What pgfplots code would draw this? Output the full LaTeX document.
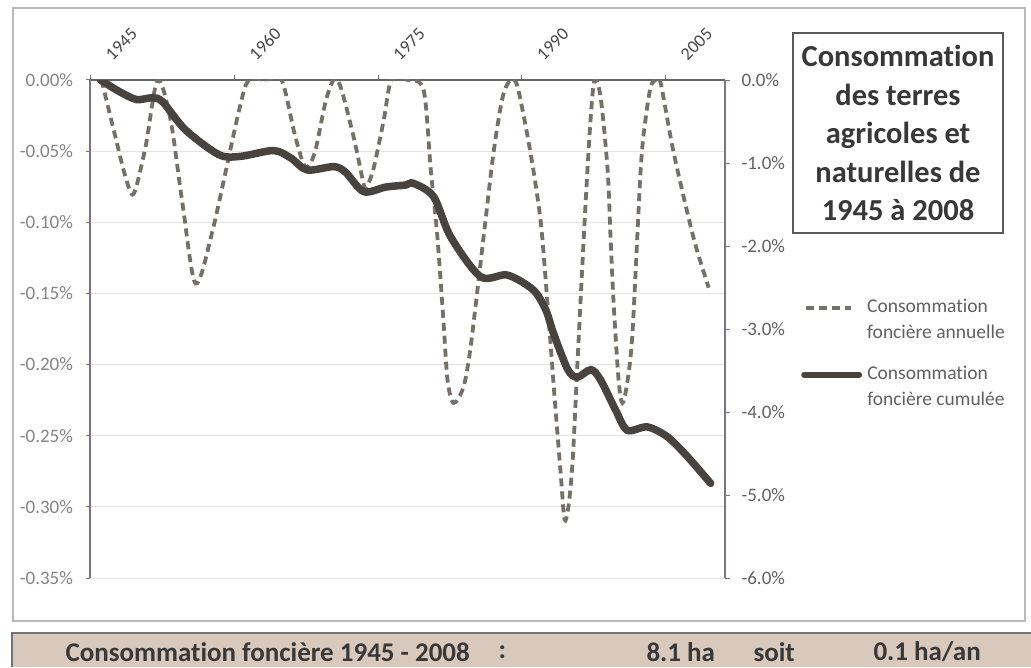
\documentclass[border=0pt]{standalone}
\usepackage{fontspec}
\setmainfont{Carlito}[Ligatures=NoCommon]
\usepackage{pgfplots}
\usepackage{pgfplotstable}
\pgfplotsset{compat=1.18}
\definecolor{dashc}{HTML}{75706A}
\definecolor{solidc}{HTML}{48433E}
\definecolor{axc}{HTML}{7C7385}
\definecolor{banner}{HTML}{D9C8BC}
\definecolor{lblc}{HTML}{858585}

% annual land consumption (% , left axis)
\pgfplotstableread{
x y
1945.65 0
1947.1 -0.040
1948.15 -0.068
1949.0 -0.080
1950.24 -0.047
1951.5 0
1952.85 -0.028
1954.1 -0.087
1955.46 -0.143
1957.23 -0.106
1959.94 -0.023
1961.0 0
1962.7 0
1964.43 0
1965.8 -0.038
1966.9 -0.061
1967.9 -0.051
1969.0 -0.016
1969.86 0
1970.6 -0.005
1971.95 -0.040
1972.9 -0.070
1973.2 -0.076
1974.0 -0.063
1975.1 -0.028
1975.9 0
1977.6 0
1979.25 -0.007
1980.0 -0.063
1980.7 -0.111
1981.34 -0.171
1981.75 -0.211
1982.38 -0.227
1983.4 -0.216
1984.15 -0.188
1985.5 -0.111
1986.55 -0.051
1987.5 -0.012
1988.33 0
1989.06 -0.005
1990.4 -0.051
1991.46 -0.099
1992.19 -0.158
1992.92 -0.223
1993.55 -0.276
1993.96 -0.309
1994.38 -0.299
1994.8 -0.268
1995.22 -0.211
1995.63 -0.155
1996.15 -0.087
1996.67 -0.028
1997.09 0
1997.72 -0.012
1998.45 -0.063
1998.76 -0.111
1999.08 -0.157
1999.6 -0.211
2000.0 -0.227
2000.54 -0.211
2001.06 -0.176
2001.9 -0.063
2002.4 -0.028
2002.94 -0.005
2003.46 0
2003.98 -0.002
2005.34 -0.051
2007.42 -0.111
2009.0 -0.146
}\annual

% cumulative land consumption (% , right axis)
\pgfplotstableread{
x y
1945.54 0
1947.6 -0.145
1949.3 -0.235
1950.9 -0.215
1952.0 -0.26
1954.4 -0.60
1957.9 -0.90
1960.15 -0.92
1963.6 -0.85
1965.4 -0.94
1967.1 -1.084
1969.86 -1.044
1971.1 -1.11
1973.0 -1.345
1975.3 -1.29
1977.4 -1.265
1978.2 -1.245
1980.3 -1.406
1982.07 -1.888
1985.2 -2.37
1988.0 -2.35
1990.7 -2.53
1992.0 -2.77
1992.8 -3.05
1994.3 -3.49
1995.3 -3.58
1996.7 -3.49
1997.7 -3.61
1999.3 -3.98
2000.5 -4.22
2002.6 -4.18
2004.7 -4.30
2006.8 -4.54
2009.2 -4.86
}\cumul

\begin{document}
\begin{tikzpicture}[x=1pt,y=1pt]
\path[use as bounding box] (0,0) rectangle (1031,667);
\fill[white] (0,0) rectangle (1031,667);
\draw[gray!55, line width=1.5pt] (13,46) rectangle (1025,659);

% banner
\fill[banner] (12,0) rectangle (1031,34);
\draw[black!55, line width=1.5pt] (12,0) -- (12,34) -- (1031,34);
\node[anchor=west, font=\bfseries\fontsize{27}{27}\selectfont, text=black!78] at (62,15) {Consommation foncière 1945 - 2008};
\node[anchor=west, font=\bfseries\fontsize{27}{27}\selectfont, text=black!78] at (495,15) {:};
\node[anchor=west, font=\bfseries\fontsize{27}{27}\selectfont, text=black!78] at (643,15) {8.1 ha};
\node[anchor=west, font=\bfseries\fontsize{27}{27}\selectfont, text=black!78] at (750,15) {soit};
\node[anchor=west, font=\bfseries\fontsize{27}{27}\selectfont, text=black!78] at (870,15) {0.1\hspace{6pt}ha/an};

% title box
\node[draw=black!65, line width=1.8pt, minimum width=210pt, minimum height=200pt, align=center,
      font=\bfseries\fontsize{30.5}{38.5}\selectfont, text=black!78] at (898,534)
  {Consommation\\des terres\\agricoles et\\naturelles de\\1945 à 2008};

\begin{axis}[
  at={(90.5pt,89pt)}, anchor=south west, scale only axis,
  width=634.5pt, height=498pt,
  xmin=1944.5, xmax=2010.7, ymin=-0.35, ymax=0,
  axis x line*=top, axis y line*=left,
  x axis line style={color=black!60, line width=2.5pt, -},
  y axis line style={color=axc, line width=2pt, -},
  xtick={1944.5,1959.5,1974.5,1989.5,2004.5},
  xticklabels={1945,1960,1975,1990,2005},
  xticklabel style={xshift=13pt, yshift=-6pt, rotate=45, anchor=south west, font=\fontsize{18}{18}\selectfont, text=black!72, xshift=17pt, yshift=4pt},
  ytick={-0.35,-0.30,-0.25,-0.20,-0.15,-0.10,-0.05,0},
  yticklabels={-0.35\%,-0.30\%,-0.25\%,-0.20\%,-0.15\%,-0.10\%,-0.05\%,0.00\%},
  yticklabel style={font=\fontsize{19}{19}\selectfont, text=lblc, xshift=-9pt},
  tick align=outside, major tick length=5pt,
  tick style={color=axc, line width=1pt},
  ymajorgrids, grid style={color=gray!22, line width=0.8pt},
  clip=true,
]
\addplot[dashc, line width=3.8pt, dash pattern=on 8pt off 5pt, smooth, tension=0.5] table {\annual};
\end{axis}

\begin{axis}[
  at={(90.5pt,89pt)}, anchor=south west, scale only axis,
  width=634.5pt, height=498pt,
  xmin=1944.5, xmax=2010.7, ymin=-6, ymax=0,
  axis x line=none, axis y line*=right,
  y axis line style={color=axc, line width=2pt, -},
  ytick={-6,-5,-4,-3,-2,-1,0},
  yticklabels={-6.0\%,-5.0\%,-4.0\%,-3.0\%,-2.0\%,-1.0\%,0.0\%},
  yticklabel style={font=\fontsize{19}{19}\selectfont, text=black!62, xshift=8pt},
  tick align=outside, major tick length=5pt,
  tick style={color=axc, line width=1pt},
  clip=true,
  legend style={draw=none, fill=none, at={(1.115,0.568)}, anchor=north west,
     row sep=22pt, column sep=3pt,
     cells={align=left, text=black!62, font=\fontsize{19.5}{26}\selectfont}},
]
\addlegendimage{legend image code/.code={\draw[dashc, line width=3.5pt, dash pattern=on 8pt off 5pt] (2pt,12pt) -- (47pt,12pt);}}
\addlegendentry{Consommation\\foncière annuelle}
\addplot[solidc, line width=7.5pt, smooth, tension=0.5, line cap=round,
  legend image code/.code={\draw[solidc, line width=6pt] (0pt,12pt) -- (55pt,12pt);}] table {\cumul};
\addlegendentry{Consommation\\foncière cumulée}
\end{axis}
\end{tikzpicture}
\end{document}
